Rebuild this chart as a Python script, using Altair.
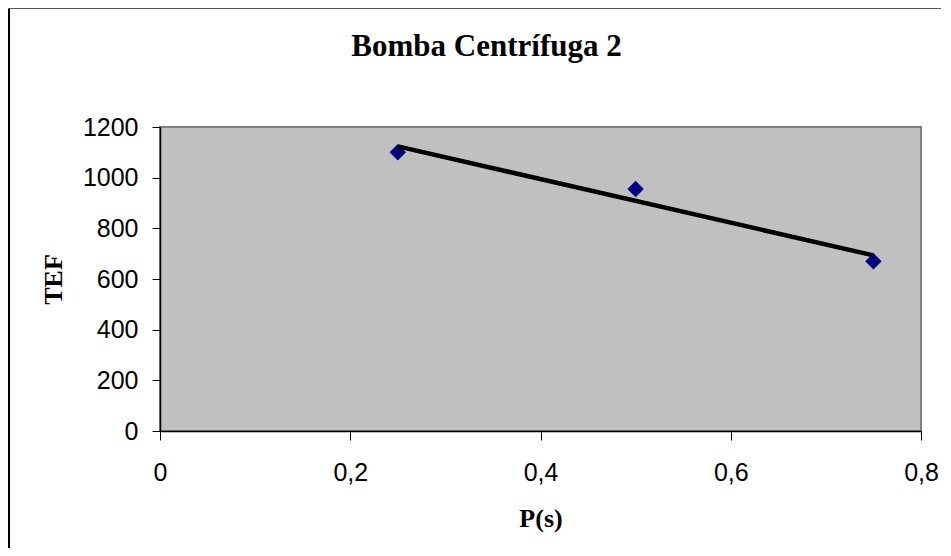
import altair as alt
import pandas as pd

# Data
p_values = [0.25, 0.5, 0.75]
tef_values = [1100, 955, 670]
x_ticks = [0, 0.2, 0.4, 0.6, 0.8]
y_ticks = [0, 200, 400, 600, 800, 1000, 1200]
title_text = "Bomba Centrífuga 2"
x_title = "P(s)"
y_title = "TEF"

df = pd.DataFrame({"P": p_values, "TEF": tef_values})
one = pd.DataFrame({"k": [0]})

W, H = 761, 304

x_enc = alt.X(
    "P:Q",
    scale=alt.Scale(domain=[0, 0.8], nice=False, zero=False),
    axis=alt.Axis(
        values=x_ticks,
        labelExpr="replace(format(datum.value, '.1~f'), '.', ',')",
        title=x_title,
        grid=False,
        tickSize=9,
        tickColor="#000000",
        domainColor="#000000",
        domainWidth=1.5,
        labelFont="Liberation Sans",
        labelFontSize=25,
        labelColor="#000000",
        labelBaseline="alphabetic",
        labelPadding=40,
        labelFlush=False,
        titleFont="Liberation Serif",
        titleFontSize=26,
        titleFontWeight="bold",
        titleColor="#000000",
        titleBaseline="alphabetic",
        titleX=W / 2,
        titleY=95,
        titleAlign="center",
    ),
)
y_enc = alt.Y(
    "TEF:Q",
    scale=alt.Scale(domain=[0, 1200], nice=False),
    axis=alt.Axis(
        values=y_ticks,
        format="d",
        title=y_title,
        grid=False,
        tickSize=8,
        tickColor="#000000",
        domainColor="#000000",
        domainWidth=1.5,
        labelFont="Liberation Sans",
        labelFontSize=25,
        labelColor="#000000",
        labelPadding=14,
        labelFlush=False,
        titleFont="Liberation Serif",
        titleFontSize=26,
        titleFontWeight="bold",
        titleColor="#000000",
        titleBaseline="alphabetic",
        titleAngle=270,
        titleX=-99,
        titleY=H / 2,
        titleAlign="center",
    ),
)

points = alt.Chart(df).mark_point(
    shape="diamond", filled=True, color="#000080", size=270, opacity=1
).encode(x=x_enc, y=y_enc)

trend = (
    alt.Chart(df)
    .transform_regression("P", "TEF")
    .mark_line(color="#000000", strokeWidth=4.5)
    .encode(x="P:Q", y="TEF:Q")
)

title = alt.Chart(one).mark_text(
    text=title_text,
    font="Liberation Serif",
    fontSize=31,
    fontWeight="bold",
    color="#000000",
    align="center",
    baseline="alphabetic",
).encode(x=alt.value(326.5), y=alt.value(-71))

frame_left = alt.Chart(one).mark_rule(color="#000000", strokeWidth=2).encode(
    x=alt.value(-151), y=alt.value(-119), y2=alt.value(H + 117)
)
frame_top = alt.Chart(one).mark_rule(color="#555555", strokeWidth=1).encode(
    x=alt.value(-152), x2=alt.value(W + 20), y=alt.value(-118.5)
)

chart = (
    alt.layer(points, trend, title, frame_left, frame_top)
    .properties(
        width=W,
        height=H,
        padding={"left": 152, "top": 119, "right": 20, "bottom": 117},
        autosize=alt.AutoSizeParams(type="none"),
        background="#FFFFFF",
    )
    .configure_view(stroke="#808080", strokeWidth=2, fill="#C0C0C0")
)

chart.save("out.html", embed_options={"renderer": "svg", "actions": False})
